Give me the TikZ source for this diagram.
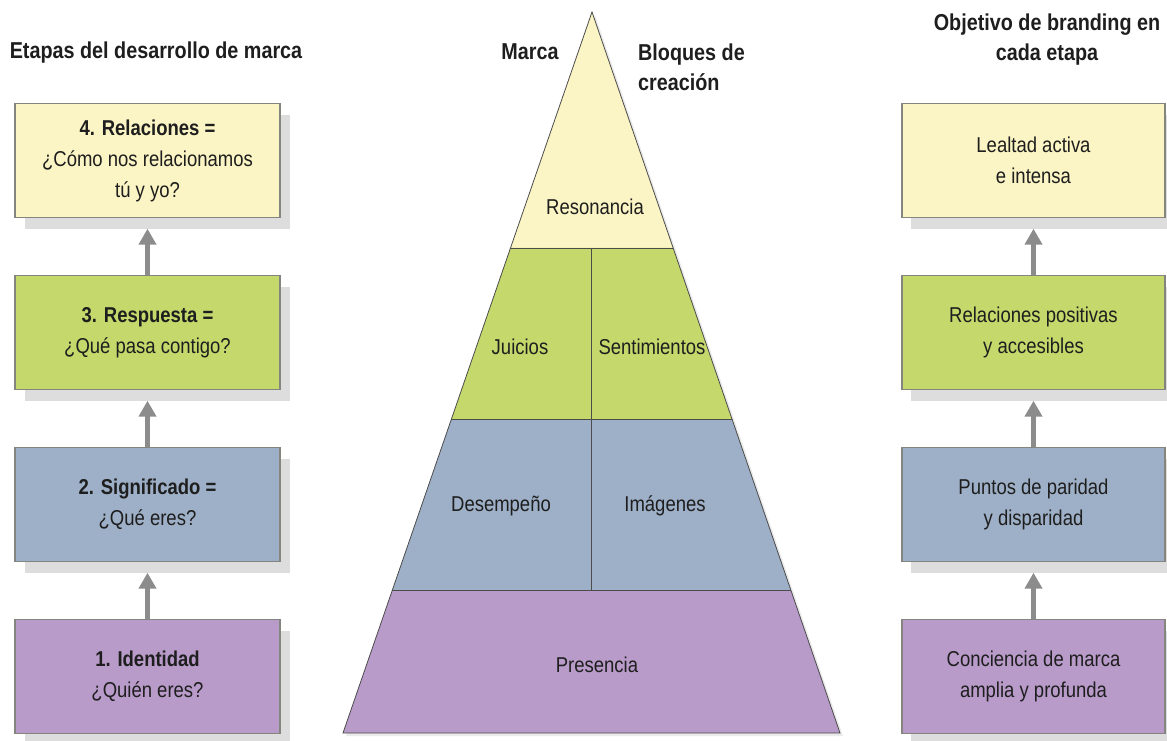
\documentclass[tikz,border=0pt]{standalone}
\usepackage{fontspec}
\setmainfont{Liberation Sans}[FakeStretch=0.86]
\usetikzlibrary{arrows.meta,calc}
\definecolor{cyel}{HTML}{FBF4C4}
\definecolor{cgrn}{HTML}{C4D86B}
\definecolor{cblu}{HTML}{9EB0C7}
\definecolor{cpur}{HTML}{B99BCA}
\definecolor{cshd}{HTML}{DDDDDD}
\definecolor{carr}{HTML}{8C8C8C}
\definecolor{cbrd}{HTML}{858580}
\definecolor{ctxt}{HTML}{1E1E1E}
\begin{document}
\begin{tikzpicture}[x=1pt,y=-1pt,
 stagebox/.style={draw=cbrd, line width=1.2pt, minimum width=265pt, minimum height=114pt, align=center, inner sep=0pt, text=ctxt, font=\fontsize{21.5}{31}\selectfont},
 shadowbox/.style={fill=cshd, minimum width=265pt, minimum height=114pt, inner sep=0pt},
 upar/.style={draw=carr, line width=4.5pt, -{Triangle[width=17pt,length=16pt]}},
 ttl/.style={font=\bfseries\fontsize{23}{30}\selectfont, text=ctxt, inner sep=0pt},
 lbl/.style={font=\fontsize{21.5}{31}\selectfont, text=ctxt, inner sep=0pt},
 pyr/.style={draw=black!70, line width=0.8pt}]
\useasboundingbox[fill=white] (0,0) rectangle (1167,740);

% titles
\node[ttl] (t1) at (156,53) {Etapas del desarrollo de marca};
\node[ttl] (t2) at (530,52) {Marca};
\node[ttl, align=left, anchor=west] (t3) at (638,67) {Bloques de\\creación};
\node[ttl, align=center] (t4) at (1047,40) {Objetivo de branding en\\cada etapa};

% left shadows
\node[shadowbox] (ls4) at (157.5,171.5) {};
\node[shadowbox] (ls3) at (157.5,343.5) {};
\node[shadowbox] (ls2) at (157.5,515.5) {};
\node[shadowbox] (ls1) at (157.5,687.5) {};
% right shadows
\node[shadowbox] (rs4) at (1043.5,171.5) {};
\node[shadowbox] (rs3) at (1043.5,343.5) {};
\node[shadowbox] (rs2) at (1043.5,515.5) {};
\node[shadowbox] (rs1) at (1043.5,687.5) {};

% left boxes
\node[stagebox, fill=cyel] (l4) at (147.5,160.5) {\textbf{4. Relaciones =}\\¿Cómo nos relacionamos\\tú y yo?};
\node[stagebox, fill=cgrn] (l3) at (147.5,332.5) {\textbf{3. Respuesta =}\\¿Qué pasa contigo?};
\node[stagebox, fill=cblu] (l2) at (147.5,504.5) {\textbf{2. Significado =}\\¿Qué eres?};
\node[stagebox, fill=cpur] (l1) at (147.5,676.5) {\textbf{1. Identidad}\\¿Quién eres?};

% right boxes
\node[stagebox, fill=cyel, minimum width=263pt] (r4) at (1033.5,160.5) {Lealtad activa\\e intensa};
\node[stagebox, fill=cgrn, minimum width=263pt] (r3) at (1033.5,332.5) {Relaciones positivas\\y accesibles};
\node[stagebox, fill=cblu, minimum width=263pt] (r2) at (1033.5,504.5) {Puntos de paridad\\y disparidad};
\node[stagebox, fill=cpur, minimum width=263pt] (r1) at (1033.5,676.5) {Conciencia de marca\\amplia y profunda};

% arrows
\draw[upar] (l1.north) -- (l1.north |- ls2.south);
\draw[upar] (l2.north) -- (l2.north |- ls3.south);
\draw[upar] (l3.north) -- (l3.north |- ls4.south);
\draw[upar] (r1.north) -- (r1.north |- rs2.south);
\draw[upar] (r2.north) -- (r2.north |- rs3.south);
\draw[upar] (r3.north) -- (r3.north |- rs4.south);

% pyramid
\coordinate (apex) at (592,12);
\coordinate (bl) at (343,733);
\coordinate (br) at (840,733);
\coordinate (L1) at ($(apex)!0.3273!(bl)$);
\coordinate (R1) at ($(apex)!0.3273!(br)$);
\coordinate (L2) at ($(apex)!0.5645!(bl)$);
\coordinate (R2) at ($(apex)!0.5645!(br)$);
\coordinate (L3) at ($(apex)!0.8017!(bl)$);
\coordinate (R3) at ($(apex)!0.8017!(br)$);
\fill[cshd!60] ($(apex)+(3,3)$) -- ($(bl)+(3,3)$) -- ($(br)+(3,3)$) -- cycle;
\fill[cyel] (apex) -- (L1) -- (R1) -- cycle;
\fill[cgrn] (L1) -- (L2) -- (R2) -- (R1) -- cycle;
\fill[cblu] (L2) -- (L3) -- (R3) -- (R2) -- cycle;
\fill[cpur] (L3) -- (bl) -- (br) -- (R3) -- cycle;
\draw[pyr] (L1) -- (R1);
\draw[pyr] (L2) -- (R2);
\draw[pyr] (L3) -- (R3);
\draw[pyr] (591,248) -- (591,590);
\draw[pyr, line join=miter] (apex) -- (bl) -- (br) -- cycle;

\node[lbl] (p1) at (595,207) {Resonancia};
\node[lbl] (p2) at (520,347) {Juicios};
\node[lbl] (p3) at (652,347) {Sentimientos};
\node[lbl] (p4) at (501,506) {Desempeño};
\node[lbl] (p5) at (665,506) {Imágenes};
\node[lbl] (p6) at (597,665) {Presencia};
\end{tikzpicture}
\end{document}
